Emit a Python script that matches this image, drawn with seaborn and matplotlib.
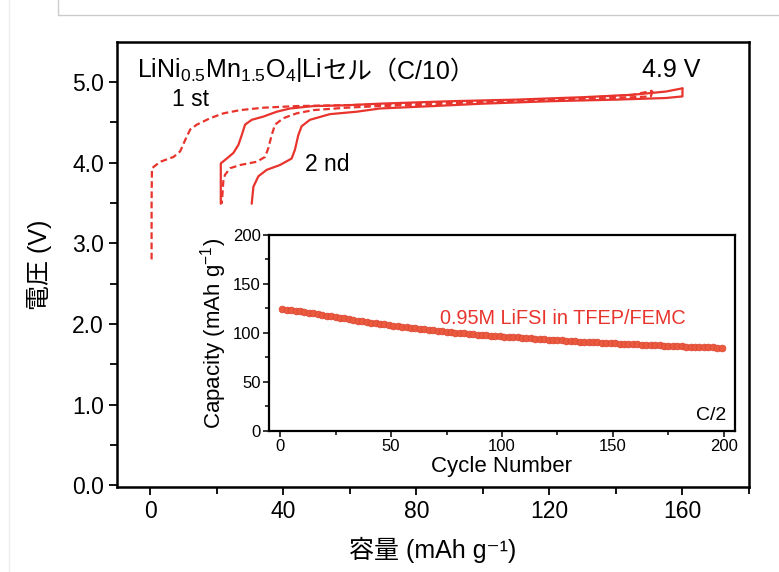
import pandas as pd
import seaborn as sns
import matplotlib.pyplot as plt
from matplotlib.lines import Line2D
from matplotlib.ticker import MultipleLocator

# charge / discharge curves: capacity (mAh/g) and voltage (V)
charge1_cap = [0.4, 0.4, 0.5, 3.0, 7.0, 9.0, 10.5, 12.0, 14.0, 18.0, 22.0, 27.0, 34.0,
               44.0, 69.0, 90.0, 110.0, 130.0, 145.0, 151.0]
charge1_v = [2.80, 3.50, 3.93, 4.01, 4.07, 4.14, 4.28, 4.41, 4.47, 4.55, 4.61, 4.65, 4.68,
             4.70, 4.72, 4.75, 4.77, 4.80, 4.84, 4.89]

discharge1_cap = [151.0, 150.5, 140.0, 120.0, 100.0, 85.0, 69.0, 59.0, 49.0, 44.0, 40.0,
                  37.5, 36.5, 35.5, 34.5, 32.0, 27.0, 24.0, 22.5, 22.0, 21.5]
discharge1_v = [4.89, 4.82, 4.80, 4.78, 4.75, 4.72, 4.70, 4.68, 4.65, 4.61, 4.55,
                4.47, 4.34, 4.18, 4.07, 4.01, 3.97, 3.93, 3.85, 3.79, 3.49]

charge2_cap = [21.2, 21.2, 23.0, 25.0, 26.5, 27.5, 28.5, 30.5, 34.0, 38.0, 42.0, 49.0,
               59.0, 69.0, 90.0, 110.0, 130.0, 145.0, 155.0, 160.0]
charge2_v = [3.49, 3.99, 4.05, 4.12, 4.22, 4.34, 4.47, 4.53, 4.57, 4.63, 4.67, 4.70,
             4.71, 4.73, 4.76, 4.78, 4.81, 4.84, 4.88, 4.92]

discharge2_cap = [160.0, 160.0, 155.0, 140.0, 120.0, 100.0, 85.0, 69.0, 62.0, 54.0, 48.0,
                  45.5, 44.5, 43.5, 42.5, 39.0, 35.0, 32.5, 31.0, 30.5]
discharge2_v = [4.92, 4.82, 4.80, 4.78, 4.76, 4.73, 4.70, 4.67, 4.63, 4.60, 4.53,
                4.45, 4.34, 4.16, 4.05, 3.97, 3.91, 3.83, 3.70, 3.49]

# inset: cycling at C/2, one point every second cycle
cycle_no = list(range(1, 201, 2))
capacity = [124.0, 123.6, 123.2, 122.7, 122.2, 121.6, 120.9, 120.2, 119.4, 118.6,
            117.8, 117.0, 116.2, 115.5, 114.8, 114.0, 113.3, 112.6, 111.9, 111.2,
            110.5, 109.9, 109.3, 108.7, 108.1, 107.5, 106.9, 106.3, 105.8, 105.2,
            104.7, 104.1, 103.6, 103.1, 102.6, 102.1, 101.6, 101.1, 100.7, 100.3,
            99.9, 99.5, 99.1, 98.7, 98.4, 98.0, 97.7, 97.3, 97.0, 96.7,
            96.4, 96.0, 95.7, 95.4, 95.1, 94.8, 94.5, 94.2, 93.9, 93.6,
            93.3, 93.0, 92.7, 92.4, 92.1, 91.9, 91.6, 91.3, 91.0, 90.8,
            90.5, 90.3, 90.0, 89.8, 89.5, 89.3, 89.1, 88.9, 88.7, 88.5,
            88.3, 88.1, 87.9, 87.7, 87.5, 87.3, 87.1, 86.9, 86.7, 86.5,
            86.4, 86.2, 86.0, 85.9, 85.7, 85.6, 85.4, 85.3, 85.1, 85.0]

sns.set_theme(style="ticks")
plt.rcParams['font.family'] = ['Liberation Sans', 'Noto Sans CJK JP', 'DejaVu Sans']
plt.rcParams['mathtext.fontset'] = 'custom'
plt.rcParams['mathtext.rm'] = 'Liberation Sans'
plt.rcParams['mathtext.it'] = 'Liberation Sans'
plt.rcParams['mathtext.bf'] = 'Liberation Sans'
for key in ['text.color', 'axes.labelcolor', 'xtick.color', 'ytick.color', 'axes.edgecolor']:
    plt.rcParams[key] = 'black'

RED = '#e8342c'
INSET_RED = '#ea5a3f'

fig = plt.figure(figsize=(7.79, 5.72), dpi=100)
ax = fig.add_axes([0.1502, 0.1486, 0.8113, 0.7774])

curves = [
    (charge1_cap, charge1_v, (0, (3, 1.6))),
    (discharge1_cap, discharge1_v, (0, (3, 1.6))),
    (charge2_cap, charge2_v, '-'),
    (discharge2_cap, discharge2_v, '-'),
]
for cap, v, ls in curves:
    df = pd.DataFrame({'cap': cap, 'v': v})
    sns.lineplot(data=df, x='cap', y='v', sort=False, estimator=None, ax=ax,
                 color=RED, lw=1.6, linestyle=ls)

ax.set_xlim(-10, 180)
ax.set_ylim(-0.02, 5.49)
ax.xaxis.set_major_locator(MultipleLocator(40))
ax.xaxis.set_minor_locator(MultipleLocator(20))
ax.yaxis.set_major_locator(MultipleLocator(1))
ax.yaxis.set_minor_locator(MultipleLocator(0.5))
ax.set_xticks([0, 40, 80, 120, 160])
ax.set_yticks([0, 1, 2, 3, 4, 5])
ax.set_yticklabels(['0.0', '1.0', '2.0', '3.0', '4.0', '5.0'])
ax.tick_params(which='both', direction='out', width=1.3, labelsize=16.5, color='black',
               labelcolor='black')
ax.tick_params(which='major', length=6)
ax.tick_params(which='minor', length=5)
for s in ax.spines.values():
    s.set_linewidth(1.8)
    s.set_color('black')
ax.set_xlabel('容量 (mAh g⁻¹)', fontsize=18, labelpad=10)
ax.set_ylabel('電圧 (V)', fontsize=18, labelpad=14)

t1 = ax.text(-3.9, 5.15, r'LiNi$_{0.5}$Mn$_{1.5}$O$_4$|Li', fontsize=18, va='center', ha='left')
ax.annotate('セル（C/10）', xy=(1, 0), xycoords=t1, va='bottom', ha='left', fontsize=18)
ax.text(156.6, 5.15, '4.9 V', fontsize=18, ha='center', va='center')
ax.text(6.5, 4.78, '1 st', fontsize=16.5, ha='left', va='center')
ax.text(46.5, 3.98, '2 nd', fontsize=16.5, ha='left', va='center')

# inset
ins = fig.add_axes([0.3453, 0.2465, 0.5982, 0.3427])
df_in = pd.DataFrame({'cycle': cycle_no, 'cap': capacity})
sns.scatterplot(data=df_in, x='cycle', y='cap', ax=ins, color=INSET_RED, s=24,
                edgecolor='#dc4430', linewidth=0.5)
ins.set_xlim(-5, 205)
ins.set_ylim(0, 200)
ins.xaxis.set_major_locator(MultipleLocator(50))
ins.xaxis.set_minor_locator(MultipleLocator(25))
ins.yaxis.set_major_locator(MultipleLocator(50))
ins.yaxis.set_minor_locator(MultipleLocator(25))
ins.tick_params(which='both', direction='out', width=1.1, labelsize=12, color='black',
                labelcolor='black', pad=2)
ins.tick_params(which='major', length=4)
ins.tick_params(which='minor', length=3)
for s in ins.spines.values():
    s.set_linewidth(1.6)
    s.set_color('black')
ins.set_xlabel('Cycle Number', fontsize=16, labelpad=1)
ins.set_ylabel(r'Capacity (mAh g$^{-1}$)', fontsize=16, labelpad=3)
ins.text(72, 115, '0.95M LiFSI in TFEP/FEMC', color=RED, fontsize=14.3, ha='left', va='center')
ins.text(201, 16, 'C/2', fontsize=14, ha='right', va='center')

# screenshot frame lines
fig.add_artist(Line2D([58 / 779, 1], [1 - 15 / 572] * 2, color='#cccccc', lw=1))
fig.add_artist(Line2D([58 / 779] * 2, [1 - 15 / 572, 1], color='#cccccc', lw=1))
fig.add_artist(Line2D([9 / 779] * 2, [0, 1], color='#eeeeee', lw=1))

fig.savefig('out.png', dpi=100)
